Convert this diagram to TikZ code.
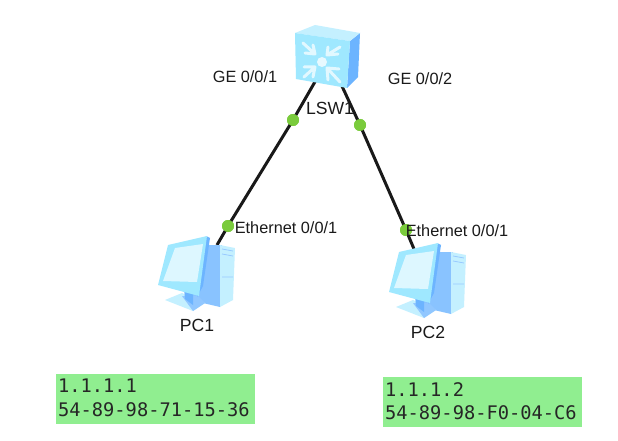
\documentclass[tikz,border=0pt]{standalone}
\usepackage{fontspec}
\setmainfont{Liberation Sans}
\newfontfamily\monof{DejaVu Sans Mono}
\definecolor{lightface}{HTML}{9FE8FF}
\definecolor{midblue}{HTML}{6CB4FF}
\definecolor{paleblue}{HTML}{C4F0FF}
\definecolor{linkgreen}{HTML}{7ACB3C}
\definecolor{notegreen}{HTML}{90EE90}
\definecolor{labelcol}{HTML}{1A1A1A}
\tikzset{
  lab/.style={font=\fontsize{16.3}{18}\selectfont, text=labelcol, inner sep=0pt},
  biglab/.style={font=\fontsize{17.6}{20}\selectfont, text=labelcol, inner sep=0pt},
  note/.style={fill=notegreen, draw=none, minimum width=199pt, minimum height=50pt, inner sep=0pt},
  notetext/.style={font=\monof\fontsize{18.7}{23.5}\selectfont, text=black!85, align=left, inner sep=0pt},
  linkline/.style={draw=black!90, line width=3pt},
  port/.style={circle, fill=linkgreen, minimum size=12pt, inner sep=0pt},
  chev/.style={draw=white!70!lightface, line width=3pt, line cap=round, line join=round},
  pc/.pic={
    % tower side and front
    \fill[midblue!80] (203,245) -- (222,245) -- (220,307) -- (190,300) -- cycle;
    \fill[paleblue] (220,245) -- (235,248) -- (233,300) -- (220,307) -- cycle;
    \draw[midblue!70, line width=.8pt] (222,249) -- (233,251) (222,254) -- (233,256) (222,277) -- (233,277);
    % stand
    \fill[paleblue] (165,300) -- (182,293) -- (205,303) -- (193,311) -- cycle;
    \fill[midblue!75] (182,296) -- (198,296) -- (205,303) -- (193,311) -- cycle;
    \fill[midblue] (184,288) -- (193,290) -- (193,305) -- (185,299) -- cycle;
    % monitor
    \fill[midblue] (206,236) -- (210,238) -- (203,286) -- (197,297) -- cycle;
    \fill[lightface] (168,245) -- (207,236) -- (199,296) -- (158,285) -- cycle;
    \fill[white!65!lightface] (175,248) -- (203,244) -- (197,282) -- (163,281) -- cycle;
  },
}
\begin{document}
\begin{tikzpicture}[x=1pt,y=-1pt]
\useasboundingbox (0,0) rectangle (618,441);
\fill[white] (0,0) rectangle (618,441);
% named anchors
\coordinate (swa) at (316,80);
\coordinate (swb) at (341,84);
\coordinate (pca) at (217,245);
\coordinate (pcb) at (414,249);
\node[port] (p1) at (293,120) {};
\node[port] (p2) at (360,125) {};
\node[port] (p3) at (228,226) {};
\node[port] (p4) at (406,230) {};
\draw[linkline] (swa) -- (p1.center) -- (p3.center) -- (pca);
\draw[linkline] (swb) -- (p2.center) -- (p4.center) -- (pcb);
\node[port] at (p1) {};
\node[port] at (p2) {};
\node[port] at (p3) {};
\node[port] at (p4) {};
% switch
\fill[midblue] (350,41) -- (360,33) -- (358,77) -- (347,88) -- cycle;
\fill[paleblue] (295,33) -- (315,25) -- (360,33) -- (350,41) -- cycle;
\fill[lightface] (295,33) -- (350,41) -- (347,88) -- (296,79) -- cycle;
\fill[white!75!lightface] (322,62) circle (5pt);
\draw[chev] (305,53) -- (315,54) -- (313,45) (315,54) -- (303,43);
\draw[chev] (338,54) -- (327,55) -- (328,47) (327,55) -- (340,47);
\draw[chev] (304,67) -- (315,67) -- (313,77) (315,67) -- (304,77);
\draw[chev] (339,69) -- (327,68) -- (328,80) (327,68) -- (340,82);
\pic at (0,0) {pc};
\pic at (231,7) {pc};
% labels
\node[biglab] (sw) at (330,108) {LSW1};
\node[lab] (ge1) at (245,77) {GE 0/0/1};
\node[lab] (ge2) at (420,79) {GE 0/0/2};
\node[lab] (eth1) at (286,228) {Ethernet 0/0/1};
\node[lab] (eth2) at (457,231) {Ethernet 0/0/1};
\node[biglab] (pc1) at (197,325) {PC1};
\node[biglab] (pc2) at (428,332) {PC2};
% notes
\node[note] (n1) at (155.5,399) {};
\node[note] (n2) at (482.5,402) {};
\node[notetext, anchor=west] (t1) at (58,398) {1.1.1.1\\54-89-98-71-15-36};
\node[notetext, anchor=west] (t2) at (385,401) {1.1.1.2\\54-89-98-F0-04-C6};
\end{tikzpicture}
\end{document}
